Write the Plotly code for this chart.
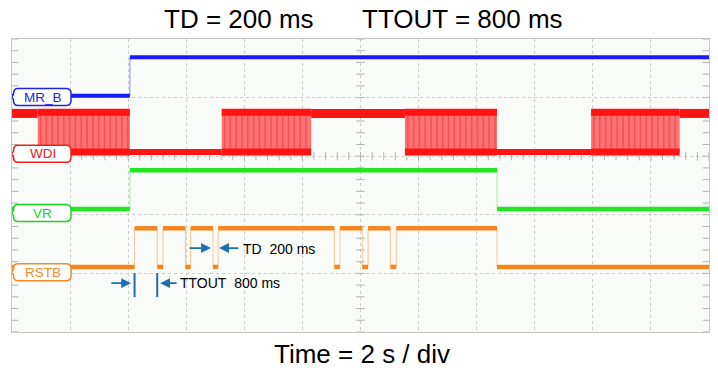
import numpy as np
import plotly.graph_objects as go

# ---------------- data (time in s, logic states) ----------------
mrb_t = [0.0, 4.06, 24.0]
mrb_s = [0, 1, 1]

# WDI: H = high, L = low, P = toggling pulse train
wdi_t = [0.0, 0.885, 4.06, 7.22, 10.30, 13.53, 16.70, 19.94, 22.99, 24.0]
wdi_s = ["H", "P", "L", "P", "H", "P", "L", "P", "H"]
wdi_toggle_period = 0.2

vr_t = [0.0, 4.06, 16.70, 24.0]
vr_s = [0, 1, 0, 0]

rstb_t = [0.0, 4.22, 5.00, 5.20, 5.97, 6.15, 6.92, 7.10, 11.10, 11.29,
          12.06, 12.26, 13.03, 13.23, 16.70, 24.0]
rstb_s = [0, 1, 0, 1, 0, 1, 0, 1, 0, 1, 0, 1, 0, 1, 0, 0]

channel_names = ["MR_B", "WDI", "VR", "RSTB"]
logic_high_v = 3.3
volts_per_div = 5.0
time_per_div = 2.0

# ---------------- styling / positions ----------------
FONT = "Liberation Sans, Arial, sans-serif"
X_RANGE = [0, 12 * time_per_div]
Y_RANGE = [0, 5]
AMP = logic_high_v / volts_per_div

offsets = {"MR_B": 4.03, "WDI": 3.07, "VR": 2.10, "RSTB": 1.11}
label_y = {"MR_B": 4.01, "WDI": 3.04, "VR": 2.03, "RSTB": 1.02}
line_col = {"MR_B": "#1a1aff", "WDI": "#ff1414", "VR": "#22e622", "RSTB": "#f5861f"}
text_col = {"MR_B": "#2424e0", "WDI": "#e82020", "VR": "#22d022", "RSTB": "#f08a2a"}
edge_col = {"MR_B": "#8c8cff", "WDI": "#ff8080", "VR": "#a0f0a0", "RSTB": "#f9c594"}
line_w = {"MR_B": 4, "WDI": 6, "VR": 4.5, "RSTB": 4.5}
ARROW = "#1f6eb5"

fig = go.Figure()


def level(name, s):
    return offsets[name] + AMP * s


def add_digital(name, t, s):
    ys = [level(name, v) for v in s]
    fig.add_trace(go.Scatter(x=t, y=ys, mode="lines", line=dict(color=edge_col[name], width=1, shape="hv"),
                             hoverinfo="skip", showlegend=False))
    bx, by = [], []
    for i in range(len(s) - 1):
        bx += [t[i], t[i + 1], None]
        by += [ys[i], ys[i], None]
    fig.add_trace(go.Scatter(x=bx, y=by, mode="lines", line=dict(color=line_col[name], width=line_w[name]),
                             hoverinfo="skip", showlegend=False))


# grid tick markers (center cross + side borders)
tx = np.arange(X_RANGE[0], X_RANGE[1] + 1e-9, time_per_div / 5)
ty = np.arange(Y_RANGE[0], Y_RANGE[1] + 1e-9, 0.2)
tick_style = dict(color="rgba(0,0,0,0)", line=dict(color="#b4b4b4", width=1))
fig.add_trace(go.Scatter(x=tx, y=[3] * len(tx), mode="markers",
                         marker=dict(symbol="line-ns", size=6, **tick_style), hoverinfo="skip", showlegend=False))
fig.add_trace(go.Scatter(x=[12] * len(ty), y=ty, mode="markers",
                         marker=dict(symbol="line-ew", size=6, **tick_style), hoverinfo="skip", showlegend=False))
fig.add_trace(go.Scatter(x=[X_RANGE[0]] * len(ty) + [X_RANGE[1]] * len(ty), y=list(ty) * 2, mode="markers",
                         marker=dict(symbol="line-ew", size=9, **tick_style), hoverinfo="skip", showlegend=False))

add_digital("MR_B", mrb_t, mrb_s)

# WDI
lo, hi = level("WDI", 0), level("WDI", 1)
for i, st in enumerate(wdi_s):
    a, b = wdi_t[i], wdi_t[i + 1]
    if st == "P":
        fig.add_trace(go.Scatter(x=[a, b, b, a, a], y=[lo, lo, hi, hi, lo], mode="lines", fill="toself",
                                 fillcolor="rgba(255,100,100,0.9)", line=dict(width=0),
                                 hoverinfo="skip", showlegend=False))
        sx, sy = [], []
        for x in np.arange(a + wdi_toggle_period / 2, b, wdi_toggle_period):
            sx += [x, x, None]
            sy += [lo, hi, None]
        fig.add_trace(go.Scatter(x=sx, y=sy, mode="lines", line=dict(color="rgba(235,40,40,0.45)", width=1.6),
                                 hoverinfo="skip", showlegend=False))
        fig.add_trace(go.Scatter(x=[a, b, None, a, b], y=[hi + 0.02, hi + 0.02, None, lo, lo], mode="lines",
                                 line=dict(color=line_col["WDI"], width=7), hoverinfo="skip", showlegend=False))
    else:
        yv = hi if st == "H" else lo
        w = 9 if st == "H" else 6
        fig.add_trace(go.Scatter(x=[a, b], y=[yv, yv], mode="lines", line=dict(color=line_col["WDI"], width=w),
                                 hoverinfo="skip", showlegend=False))

add_digital("VR", vr_t, vr_s)
add_digital("RSTB", rstb_t, rstb_s)

# TTOUT bars
bar_y = [0.597, 1.007]
fig.add_trace(go.Scatter(x=[rstb_t[1], rstb_t[1], None, rstb_t[2], rstb_t[2]],
                         y=[bar_y[0], bar_y[1], None, bar_y[0], bar_y[1]], mode="lines",
                         line=dict(color=ARROW, width=2), hoverinfo="skip", showlegend=False))

# channel labels (rounded boxes)
box_path = ("M 6,-8.5 L 54,-8.5 Q 59,-8.5 59,-3.5 L 59,3.5 Q 59,8.5 54,8.5 L 6,8.5 "
            "Q 1.5,8.5 1.5,3.5 L 1.5,2.5 L -0.5,0 L 1.5,-2.5 L 1.5,-3.5 Q 1.5,-8.5 6,-8.5 Z")
shapes = []
annotations = []
for name in channel_names:
    shapes.append(dict(type="path", xref="x", yref="y", xsizemode="pixel", ysizemode="pixel",
                       xanchor=0, yanchor=label_y[name], path=box_path, fillcolor="white",
                       line=dict(color=text_col[name], width=1.5), layer="above"))
    annotations.append(dict(x=0, y=label_y[name], xref="x", yref="y", text=name, showarrow=False,
                            xanchor="center", yanchor="middle", xshift=30.5,
                            font=dict(family=FONT, size=13.5, color=text_col[name])))

# arrows
def arrow(tail_x, head_x, yv):
    return dict(x=head_x, y=yv, ax=tail_x, ay=yv, xref="x", yref="y", axref="x", ayref="y", text="",
                showarrow=True, arrowhead=2, arrowsize=1.1, arrowwidth=1.8, arrowcolor=ARROW, standoff=0)

annotations += [
    arrow(3.37, 4.10, 0.834), arrow(5.72, 5.10, 0.834),
    arrow(6.06, 6.85, 1.433), arrow(7.85, 7.13, 1.433),
    dict(x=5.70, y=0.834, xref="x", yref="y", text="TTOUT\u00a0 800 ms", showarrow=False,
         xanchor="left", yanchor="middle", font=dict(family=FONT, size=14, color="black")),
    dict(x=7.90, y=1.425, xref="x", yref="y", text="TD\u00a0 200 ms", showarrow=False,
         xanchor="left", yanchor="middle", font=dict(family=FONT, size=14, color="black")),
    dict(x=0.2148, y=1.068, xref="paper", yref="paper", text="TD = 200 ms", showarrow=False,
         xanchor="left", yanchor="middle", font=dict(family=FONT, size=26, color="black")),
    dict(x=0.4993, y=1.068, xref="paper", yref="paper", text="TTOUT = 800 ms", showarrow=False,
         xanchor="left", yanchor="middle", font=dict(family=FONT, size=26, color="black")),
    dict(x=0.502, y=-0.075, xref="paper", yref="paper", text="Time = 2 s / div", showarrow=False,
         xanchor="center", yanchor="middle", font=dict(family=FONT, size=26, color="black")),
]

axis_common = dict(showgrid=True, griddash="dot", gridcolor="#cdcdcd", gridwidth=1, zeroline=False,
                   showticklabels=False, ticks="", showline=True, mirror=True, linecolor="#c6c6c6",
                   linewidth=1, fixedrange=True)
fig.update_layout(
    width=718, height=372,
    margin=dict(l=12, r=9, t=39, b=40),
    paper_bgcolor="white", plot_bgcolor="#f8fbf8",
    xaxis=dict(range=X_RANGE, dtick=time_per_div, **axis_common),
    yaxis=dict(range=Y_RANGE, dtick=1, **axis_common),
    shapes=shapes, annotations=annotations, showlegend=False, hovermode=False,
)
# remove the default page-body margin so the figure sits at the window's top-left corner
fig.write_html("out.html", config={"displayModeBar": False, "staticPlot": True},
               post_script="document.body.style.margin='0px';")
